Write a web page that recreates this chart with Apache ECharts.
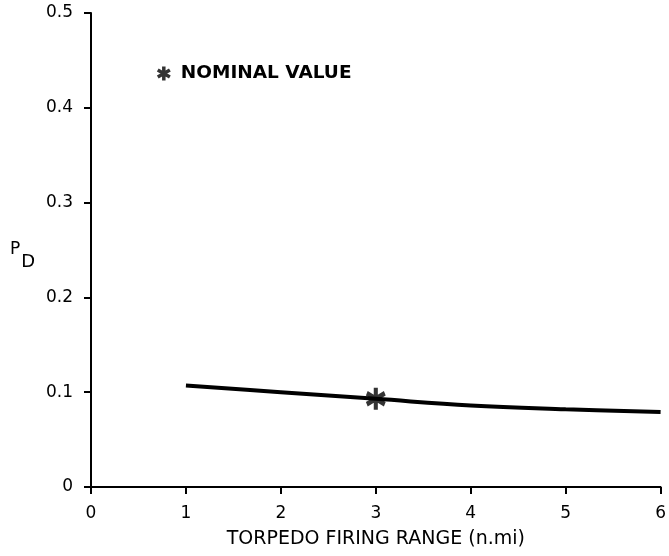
<!DOCTYPE html>
<html>
<head>
<meta charset="utf-8">
<title>P_D vs torpedo firing range</title>
<script src="https://cdn.jsdelivr.net/npm/echarts@6/dist/echarts.min.js"></script>
<style>
  html, body { margin: 0; padding: 0; background: #fff; }
  #chart { width: 669px; height: 556px; }
</style>
</head>
<body>
<div id="chart"></div>
<script>
// range (n.mi) and detection probability
var ranges = [1, 2, 3, 4, 5, 6];
var pd = [0.107, 0.100, 0.093, 0.086, 0.082, 0.079];
// nominal point
var nominal = [[3, 0.093]];
var yTickLabels = ['0', '0.1', '0.2', '0.3', '0.4', '0.5'];

var FONT = '"DejaVu Sans", "Liberation Sans", Arial, sans-serif';
var STAR = 'path://M0,-10L0,10M-8.66,-5L8.66,5M-8.66,5L8.66,-5';

var chart = echarts.init(document.getElementById('chart'));

var option = {
  animation: false,
  backgroundColor: '#fff',
  textStyle: { fontFamily: FONT, color: '#000' },
  grid: { left: 91, right: 6, top: 13, bottom: 69 },
  legend: {
    left: 151,
    top: 59,
    itemWidth: 24,
    itemHeight: 14,
    itemGap: 6,
    data: [{
      name: 'NOMINAL VALUE',
      icon: STAR,
      itemStyle: { color: '#000', borderColor: '#000', borderWidth: 3.5 }
    }],
    textStyle: { fontFamily: FONT, fontSize: 18.5, fontWeight: 'bold', color: '#000' },
    selectedMode: false
  },
  xAxis: {
    type: 'value',
    min: 0,
    max: 6,
    interval: 1,
    name: 'TORPEDO FIRING RANGE (n.mi)',
    nameLocation: 'middle',
    nameGap: 43,
    nameTextStyle: { fontFamily: FONT, fontSize: 19, color: '#000' },
    axisLine: { show: true, onZero: false, lineStyle: { color: '#000', width: 2 } },
    axisTick: { show: true, length: 7, lineStyle: { color: '#000', width: 2 } },
    axisLabel: { fontFamily: FONT, fontSize: 17, color: '#000', margin: 18 },
    splitLine: { show: false }
  },
  yAxis: {
    type: 'value',
    min: 0,
    max: 0.5,
    interval: 0.1,
    name: '{p|P}{d|D}',
    nameLocation: 'middle',
    nameRotate: 0,
    nameGap: 56,
    nameTextStyle: {
      padding: [12, 0, 0, 0],
      rich: {
        p: { fontFamily: FONT, fontSize: 17, color: '#000', lineHeight: 30, verticalAlign: 'top', padding: [0, 1, 0, 0] },
        d: { fontFamily: FONT, fontSize: 18, color: '#000', lineHeight: 30, verticalAlign: 'bottom' }
      }
    },
    axisLine: { show: true, lineStyle: { color: '#000', width: 2 } },
    axisTick: { show: true, length: 7, lineStyle: { color: '#000', width: 2 } },
    axisLabel: {
      fontFamily: FONT, fontSize: 17, color: '#000', margin: 18,
      formatter: function (v) { return yTickLabels[Math.round(v * 10)]; }
    },
    splitLine: { show: false }
  },
  series: [
    {
      type: 'line',
      name: 'PD',
      smooth: 0.4,
      symbol: 'none',
      lineStyle: { color: '#000', width: 4 },
      data: ranges.map(function (r, i) { return [r, pd[i]]; }),
      z: 2
    },
    {
      type: 'scatter',
      name: 'NOMINAL VALUE',
      symbol: STAR,
      symbolSize: [18, 22],
      itemStyle: { color: '#000', borderColor: '#000', borderWidth: 4.5 },
      data: nominal,
      z: 3
    }
  ]
};

chart.setOption(option);
</script>
</body>
</html>
